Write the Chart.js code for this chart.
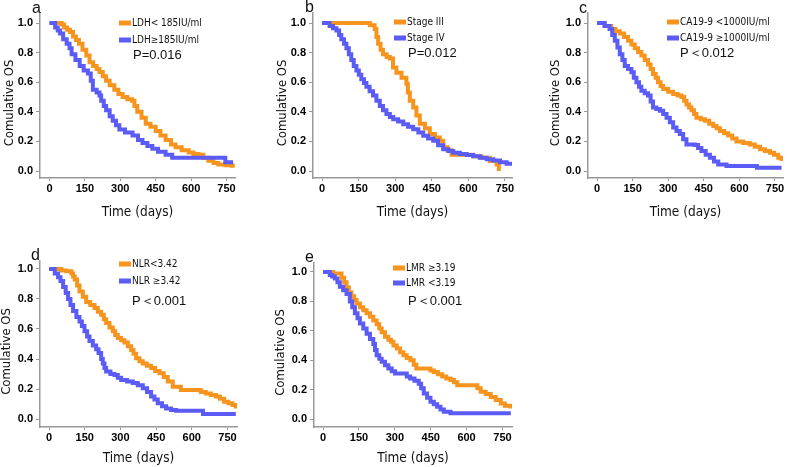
<!DOCTYPE html>
<html>
<head>
<meta charset="utf-8">
<script src="https://cdn.jsdelivr.net/npm/chart.js@4.4.0/dist/chart.umd.min.js"></script>
<style>
  body { margin: 0; background: #fff; width: 787px; height: 467px; position: relative; overflow: hidden;
         font-family: "Liberation Sans", Arial, sans-serif; }
  canvas { position: absolute; }
  .t { position: absolute; white-space: nowrap; transform: translateY(-50%); color: #111; line-height: 1; }
  .lg { font-family: "Liberation Sans Narrow", "DejaVu Sans Condensed", sans-serif; font-size: 10px; }
  .pv { font-size: 13px; }
  .let { font-size: 16px; }
  .sw { position: absolute; width: 12px; height: 5px; transform: translateY(-50%); }
</style>
</head>
<body>
<script>
// --- Ticks ---
const xTicks = [0, 150, 300, 450, 600, 750];
const yTicks = [0, 0.2, 0.4, 0.6, 0.8, 1.0];

const naranja = '#F7941D';
const azul = '#5B5BF5';

// --- Datos: [dias, supervivencia acumulada] ---
const ldhBajo = [[0,1],[52,0.99],[62,0.97],[75,0.955],[87,0.94],[100,0.91],[112,0.885],[125,0.86],[140,0.82],[156,0.78],
  [170,0.735],[185,0.71],[200,0.69],[212,0.67],[226,0.64],[240,0.61],[255,0.58],[275,0.55],[292,0.52],[310,0.5],
  [330,0.485],[350,0.475],[360,0.44],[372,0.4],[390,0.36],[408,0.32],[428,0.3],[450,0.27],[470,0.24],[492,0.21],
  [515,0.18],[534,0.16],[560,0.14],[590,0.125],[610,0.115],[631,0.11],[652,0.09],[673,0.07],[695,0.055],[715,0.045],
  [745,0.04],[771,0.035],[785,0.035]];
const ldhAlto = [[0,1],[24,0.97],[35,0.95],[45,0.93],[58,0.89],[73,0.86],[85,0.83],[94,0.79],[110,0.75],[128,0.71],
  [145,0.68],[163,0.66],[175,0.61],[184,0.55],[200,0.53],[212,0.51],[219,0.475],[230,0.44],[240,0.41],[255,0.37],
  [268,0.34],[282,0.31],[296,0.28],[320,0.26],[352,0.24],[375,0.21],[394,0.19],[415,0.17],[436,0.15],[460,0.13],
  [492,0.11],[520,0.09],[743,0.09],[745,0.06],[778,0.06]];

const estadioIII = [[0,1],[161,1],[196,0.985],[216,0.96],[223,0.905],[230,0.86],[240,0.82],[250,0.79],[265,0.77],[278,0.76],
  [291,0.7],[305,0.665],[326,0.63],[346,0.59],[352,0.53],[360,0.475],[374,0.43],[387,0.375],[401,0.32],[422,0.29],
  [442,0.25],[463,0.226],[483,0.204],[497,0.16],[515,0.14],[531,0.11],[593,0.11],[620,0.1],[654,0.09],[688,0.068],
  [716,0.045],[725,0.0]];
const estadioIV = [[0,1],[31,0.98],[45,0.965],[59,0.95],[70,0.92],[79,0.89],[90,0.86],[100,0.83],[110,0.79],[120,0.75],
  [130,0.71],[141,0.68],[151,0.65],[161,0.62],[172,0.595],[182,0.57],[195,0.54],[209,0.51],[223,0.475],[237,0.44],
  [250,0.41],[264,0.385],[278,0.365],[292,0.35],[312,0.335],[333,0.317],[353,0.3],[374,0.283],[395,0.26],[415,0.238],
  [435,0.22],[456,0.204],[476,0.175],[497,0.147],[518,0.135],[538,0.124],[565,0.115],[593,0.109],[620,0.1],[647,0.09],
  [675,0.08],[702,0.072],[730,0.06],[757,0.05],[780,0.045]];

const caBajo = [[0,1],[32,0.98],[60,0.96],[78,0.945],[96,0.93],[114,0.905],[131,0.88],[145,0.855],[159,0.83],[173,0.805],
  [187,0.78],[201,0.75],[215,0.72],[226,0.69],[236,0.656],[247,0.63],[257,0.6],[268,0.575],[279,0.554],[300,0.535],
  [321,0.52],[340,0.51],[356,0.5],[367,0.475],[377,0.45],[388,0.43],[398,0.41],[409,0.385],[419,0.36],[437,0.35],
  [455,0.34],[473,0.32],[490,0.305],[504,0.29],[518,0.27],[536,0.255],[553,0.24],[570,0.22],[588,0.2],[616,0.19],
  [644,0.18],[665,0.165],[687,0.147],[708,0.135],[729,0.124],[746,0.11],[764,0.09],[778,0.068]];
const caAlto = [[0,1],[32,0.98],[53,0.96],[64,0.92],[75,0.88],[86,0.835],[96,0.79],[107,0.75],[117,0.71],[131,0.69],
  [145,0.667],[155,0.63],[166,0.6],[177,0.57],[187,0.543],[201,0.525],[215,0.51],[226,0.47],[236,0.43],[250,0.42],
  [265,0.407],[279,0.385],[293,0.36],[307,0.33],[321,0.294],[335,0.27],[349,0.25],[363,0.215],[377,0.18],[412,0.176],
  [426,0.155],[440,0.136],[458,0.11],[476,0.09],[493,0.065],[511,0.045],[546,0.034],[672,0.034],[674,0.023],[778,0.023]];

const nlrBajo = [[0,1],[52,0.99],[73,0.985],[94,0.97],[101,0.95],[108,0.93],[118,0.89],[128,0.85],[142,0.815],[156,0.78],
  [173,0.76],[191,0.74],[205,0.715],[219,0.695],[230,0.665],[240,0.64],[254,0.61],[268,0.585],[278,0.56],[289,0.54],
  [303,0.525],[317,0.51],[331,0.485],[345,0.46],[355,0.435],[366,0.405],[380,0.385],[394,0.37],[411,0.355],[429,0.34],
  [446,0.32],[464,0.305],[482,0.28],[499,0.25],[520,0.216],[554,0.194],[617,0.194],[638,0.18],[659,0.17],[680,0.16],
  [701,0.15],[718,0.135],[736,0.116],[754,0.105],[771,0.094],[785,0.07]];
const nlrAlto = [[0,1],[24,0.97],[38,0.945],[48,0.92],[59,0.88],[70,0.84],[80,0.8],[90,0.76],[101,0.72],[115,0.68],
  [128,0.65],[138,0.62],[149,0.585],[160,0.55],[170,0.52],[184,0.49],[198,0.465],[208,0.44],[219,0.4],[226,0.37],
  [233,0.34],[240,0.316],[258,0.3],[275,0.294],[289,0.275],[303,0.26],[328,0.25],[352,0.24],[373,0.225],[394,0.205],
  [412,0.18],[429,0.15],[443,0.13],[457,0.105],[475,0.085],[492,0.07],[513,0.06],[534,0.056],[645,0.056],[647,0.033],
  [785,0.033]];

const lmrAlto = [[0,1],[42,0.99],[77,0.96],[88,0.93],[98,0.895],[108,0.86],[119,0.835],[130,0.81],[140,0.785],[154,0.76],
  [168,0.74],[182,0.72],[196,0.695],[210,0.67],[224,0.645],[235,0.615],[245,0.59],[259,0.56],[273,0.54],[284,0.525],
  [294,0.5],[308,0.48],[322,0.455],[336,0.434],[350,0.415],[365,0.4],[379,0.37],[390,0.344],[435,0.344],[449,0.33],
  [463,0.32],[480,0.305],[498,0.29],[515,0.275],[533,0.265],[547,0.25],[561,0.23],[631,0.23],[645,0.21],[659,0.186],
  [680,0.17],[701,0.15],[722,0.13],[743,0.106],[760,0.09],[778,0.09],[785,0.072]];
const lmrBajo = [[0,1],[28,0.98],[38,0.97],[49,0.955],[60,0.93],[70,0.9],[84,0.875],[98,0.85],[112,0.8],[122,0.76],
  [133,0.72],[144,0.685],[154,0.65],[168,0.615],[182,0.58],[196,0.545],[210,0.51],[217,0.47],[224,0.434],[235,0.41],
  [245,0.39],[259,0.365],[273,0.344],[287,0.325],[301,0.31],[336,0.31],[350,0.29],[364,0.276],[382,0.26],[400,0.24],
  [410,0.21],[421,0.174],[435,0.145],[449,0.118],[463,0.1],[477,0.084],[491,0.065],[505,0.05],[533,0.04],[785,0.04]];

const paneles = [
  { letra: 'a', series: [ldhBajo, ldhAlto], nombres: ['LDH< 185IU/ml', 'LDH\u2265185IU/ml'], p: 'P=0.016' },
  { letra: 'b', series: [estadioIII, estadioIV], nombres: ['Stage III', 'Stage IV'], p: 'P=0.012' },
  { letra: 'c', series: [caBajo, caAlto], nombres: ['CA19-9 <1000IU/ml', 'CA19-9 \u22651000IU/ml'], p: 'P\uFF1C0.012' },
  { letra: 'd', series: [nlrBajo, nlrAlto], nombres: ['NLR<3.42', 'NLR \u22653.42'], p: 'P\uFF1C0.001' },
  { letra: 'e', series: [lmrAlto, lmrBajo], nombres: ['LMR \u22653.19', 'LMR <3.19'], p: 'P\uFF1C0.001' }
];

// posiciones en pixeles de cada panel
const posiciones = [
  { cl: 0,   ct: 0,   w: 250, h: 228, ax: 40,  top: 13,  ay: 178, right: 235, xmin: -40, xmax: 786, ymin: -0.047, ymax: 1.068,
    ytp: 3.5, xtpb: 7.9, lx: 119, ly: [23, 40], px: 133, py: 54, le: [32, 8] },
  { cl: 273, ct: 0,   w: 250, h: 228, ax: 313, top: 13,  ay: 178, right: 512, xmin: -37, xmax: 779, ymin: -0.047, ymax: 1.068,
    ytp: 3.5, xtpb: 7.9, lx: 394, ly: [22, 38], px: 408, py: 52, le: [305, 7] },
  { cl: 548, ct: 0,   w: 239, h: 228, ax: 588, top: 13,  ay: 178, right: 783, xmin: -38, xmax: 784, ymin: -0.047, ymax: 1.068,
    ytp: 1.5, xtpb: 7.9, lx: 667, ly: [22, 38], px: 680, py: 52, le: [579, 8] },
  { cl: 0,   ct: 240, w: 250, h: 227, ax: 40,  top: 261, ay: 427, right: 237, xmin: -38, xmax: 790, ymin: -0.053, ymax: 1.053,
    ytp: 0, xtpb: 0.9, lx: 119, ly: [264, 281], px: 132, py: 300, le: [31, 255] },
  { cl: 274, ct: 240, w: 250, h: 227, ax: 314, top: 263, ay: 427, right: 512, xmin: -38, xmax: 790, ymin: -0.054, ymax: 1.061,
    ytp: 0.5, xtpb: 0.9, lx: 393, ly: [268, 283], px: 408, py: 300, le: [305, 257] }
];

function texto(clase, txt, x, y) {
  const d = document.createElement('div');
  d.className = 't ' + clase;
  d.textContent = txt;
  d.style.left = x + 'px';
  d.style.top = y + 'px';
  document.body.appendChild(d);
}

const fuenteTicks = { family: '"Liberation Sans", Arial, sans-serif', size: 11, weight: 'bold' };
const fuenteTitulo = { family: '"Liberation Sans Narrow", "DejaVu Sans Condensed", sans-serif', size: 13.5 };

paneles.forEach((p, i) => {
  const L = posiciones[i];
  const cv = document.createElement('canvas');
  cv.width = L.w; cv.height = L.h;
  cv.style.left = L.cl + 'px'; cv.style.top = L.ct + 'px';
  document.body.appendChild(cv);

  new Chart(cv, {
    type: 'line',
    data: {
      datasets: [
        { label: p.nombres[0], data: p.series[0].map(d => ({ x: d[0], y: d[1] })), borderColor: naranja,
          borderWidth: 4, stepped: true, pointRadius: 0, fill: false, order: 1 },
        { label: p.nombres[1], data: p.series[1].map(d => ({ x: d[0], y: d[1] })), borderColor: azul,
          borderWidth: 4, stepped: true, pointRadius: 0, fill: false, order: 0 }
      ]
    },
    options: {
      responsive: false,
      animation: false,
      layout: { padding: { top: L.top - L.ct, right: L.cl + L.w - L.right, left: 0, bottom: 0 } },
      plugins: { legend: { display: false }, tooltip: { enabled: false } },
      scales: {
        x: {
          type: 'linear', min: L.xmin, max: L.xmax,
          afterBuildTicks: s => { s.ticks = xTicks.map(v => ({ value: v })); },
          afterFit: s => { s.height = L.ct + L.h - L.ay; },
          grid: { drawOnChartArea: false, tickLength: 3, color: '#999' },
          border: { color: '#999', width: 1.5 },
          ticks: { font: fuenteTicks, color: '#000', padding: 1, maxRotation: 0, autoSkip: false, callback: v => v },
          title: { display: true, text: 'Time (days)', color: '#111', font: fuenteTitulo, padding: { top: 0, bottom: L.xtpb } }
        },
        y: {
          min: L.ymin, max: L.ymax,
          afterBuildTicks: s => { s.ticks = yTicks.map(v => ({ value: v })); },
          afterFit: s => { s.width = L.ax - L.cl; },
          grid: { drawOnChartArea: false, tickLength: 4, color: '#999' },
          border: { color: '#999', width: 1.5 },
          ticks: { font: fuenteTicks, color: '#000', padding: 3, callback: v => v.toFixed(1) },
          // espacios finales para bajar un poco el titulo, como en el original
          title: { display: true, text: 'Comulative OS    ', color: '#111',
                   font: { family: fuenteTitulo.family, size: 13, lineHeight: 1 }, padding: { top: L.ytp, bottom: 0 } }
        }
      }
    }
  });

  // letra, leyenda y valor P
  texto('let', p.letra, L.le[0], L.le[1]);
  [naranja, azul].forEach((c, k) => {
    const s = document.createElement('div');
    s.className = 'sw';
    s.style.background = c;
    s.style.left = L.lx + 'px';
    s.style.top = L.ly[k] + 'px';
    document.body.appendChild(s);
    texto('lg', p.nombres[k], L.lx + 13, L.ly[k]);
  });
  texto('pv', p.p, L.px, L.py);
});
</script>
</body>
</html>
